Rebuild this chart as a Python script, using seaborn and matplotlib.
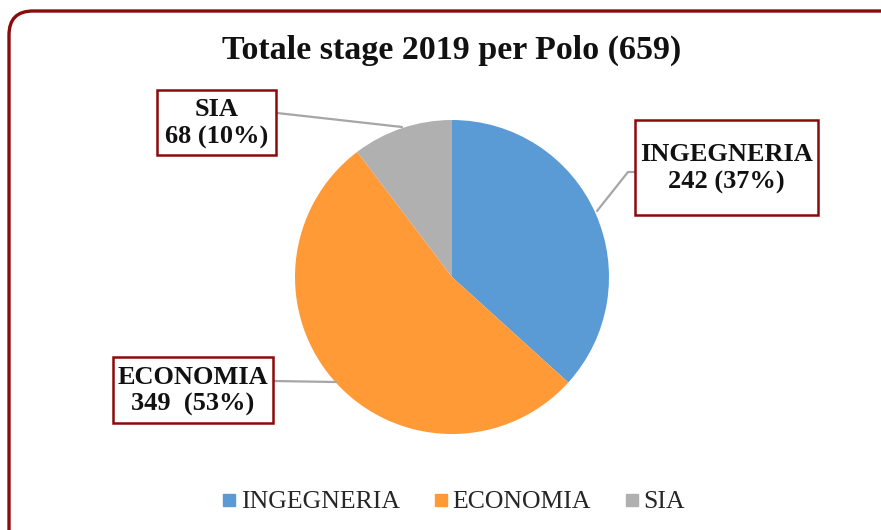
import matplotlib
matplotlib.use("Agg")
import matplotlib.pyplot as plt
import seaborn as sns
from matplotlib.patches import FancyBboxPatch, Rectangle
from matplotlib.lines import Line2D

# Data
poli = ["INGEGNERIA", "ECONOMIA", "SIA"]
stage = [242, 349, 68]
etichette = ["INGEGNERIA\n242 (37%)", "ECONOMIA\n349  (53%)", "SIA\n68 (10%)"]
colori = ["#5B9BD5", "#FF9A36", "#B0B0B0"]
titolo = "Totale stage 2019 per Polo (659)"

W, H = 881, 530
BORDO = "#8B0A0A"

sns.set_theme(style="white")
plt.rcParams["font.family"] = ["Liberation Serif", "DejaVu Serif"]

fig = plt.figure(figsize=(W / 100, H / 100), dpi=100)
ax = fig.add_axes([0, 0, 1, 1])


def py(y):
    # pixel row -> data y
    return H - y


# outer rounded frame (cut at right and bottom like the original)
frame = FancyBboxPatch((9, py(560)), 920, 549,
                       boxstyle="round,pad=0,rounding_size=24",
                       fc="none", ec=BORDO, lw=2.4)
ax.add_patch(frame)

# pie
ax.pie(stage, colors=sns.color_palette(colori), startangle=90,
       counterclock=False, center=(452, py(277)), radius=157,
       wedgeprops=dict(lw=0), frame=True)
ax.set_xlim(0, W)
ax.set_ylim(0, H)
ax.set_aspect("equal")
ax.axis("off")

# leader lines
gray = "#A6A6A6"
ax.plot([277, 402], [py(113), py(127)], color=gray, lw=1.6)
ax.plot([597, 628, 635], [py(211), py(172), py(172)], color=gray, lw=1.6)
ax.plot([273, 336], [py(381), py(382)], color=gray, lw=1.6)

# label boxes
boxes = [(635, 120, 818, 215), (113, 357, 273, 423), (157, 90, 276, 155)]
for (x0, y0, x1, y1), lab in zip(boxes, etichette):
    ax.add_patch(Rectangle((x0, py(y1)), x1 - x0, y1 - y0,
                           fc="white", ec=BORDO, lw=1.8, zorder=3))
    ax.text((x0 + x1) / 2, py((y0 + y1) / 2 + 1), lab, ha="center",
            va="center", fontsize=19, fontweight="bold", color="#111111",
            linespacing=1.25, zorder=4)

# title
ax.text(452, py(50), titolo, ha="center", va="center",
        fontsize=24.5, fontweight="bold", color="#111111")

# legend
handles = [Line2D([], [], marker="s", ls="", color=c, markersize=9)
           for c in colori]
ax.legend(handles, poli, loc="center", ncol=3,
          bbox_to_anchor=(452 / W, 1 - 502 / H), frameon=False,
          fontsize=18.5, handletextpad=0.05, columnspacing=1.2,
          handlelength=0.8)

fig.savefig("out.png", dpi=100, facecolor="white")
